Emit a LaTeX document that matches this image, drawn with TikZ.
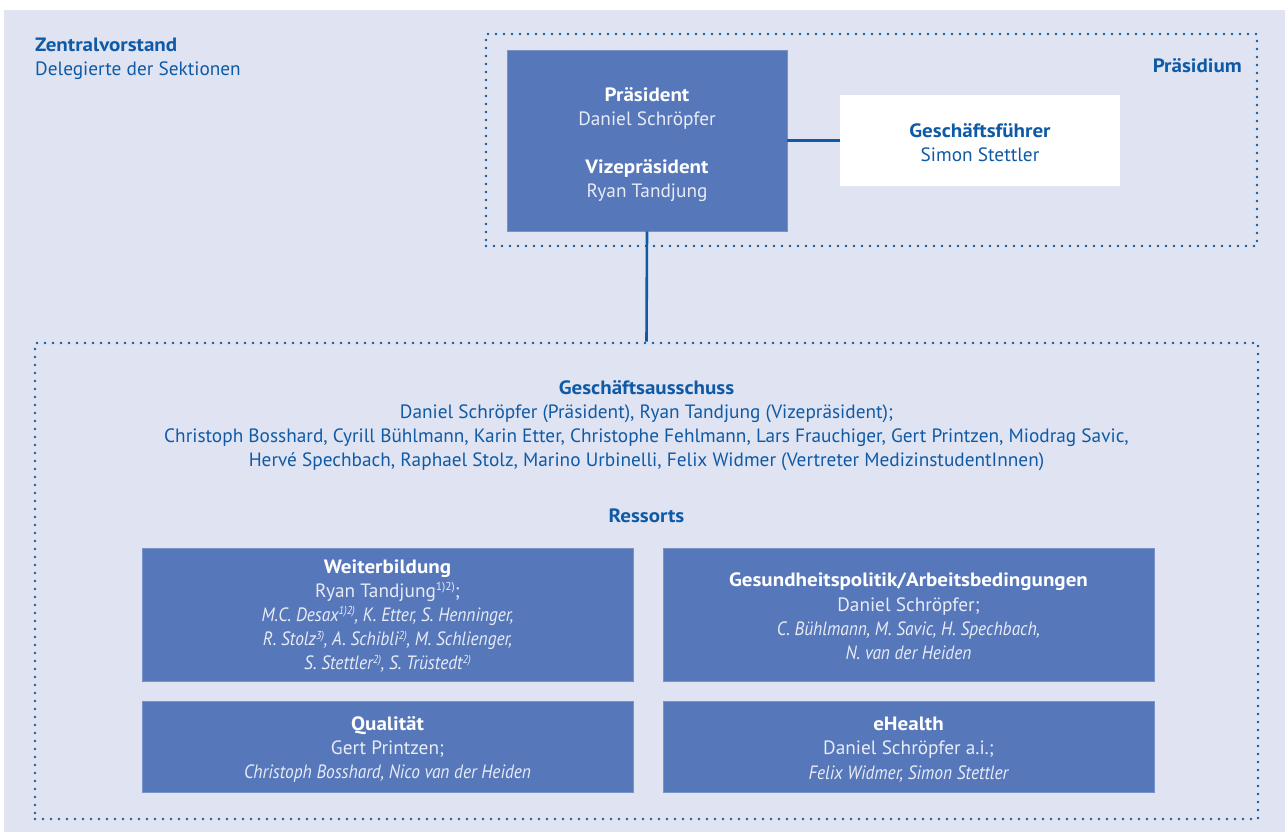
\documentclass[tikz,border=0pt]{standalone}
\usepackage{fontspec}
\setmainfont{PT Sans}[ItalicFeatures={FakeStretch=0.9},BoldFeatures={FakeStretch=1.09},BoldItalicFeatures={FakeStretch=1.0}]
\definecolor{bgc}{HTML}{E0E4F2}
\definecolor{boxc}{HTML}{5677BA}
\definecolor{dblue}{HTML}{0F5AA6}
\definecolor{ltext}{HTML}{E8ECF6}
\tikzset{
  dotbox/.style={draw=dblue, line width=2.6pt, dash pattern=on 0pt off 8pt, line cap=round, inner sep=0pt},
  bluebox/.style={fill=boxc, draw=boxc!80!white, line width=0.6pt, inner sep=0pt, align=center, text=ltext},
  whitebox/.style={fill=white, inner sep=0pt, align=center, text=dblue},
  conn/.style={draw=dblue, line width=2.6pt},
  lbl/.style={inner sep=0pt, text=dblue, align=center},
}
\newcommand{\hd}[1]{{\bfseries\color{white}#1}}
\newcommand{\hdb}[1]{{\bfseries #1}}
\newcommand{\sups}[1]{\raisebox{6.5pt}{\fontsize{11.5}{11.5}\selectfont #1}}
\begin{document}
\begin{tikzpicture}[x=1pt,y=-1pt, font=\fontsize{19.3}{24.2}\selectfont]
\useasboundingbox (0,0) rectangle (1285,832);
\fill[bgc] (4,10) rectangle (1285,832);

% dotted frames
\node[dotbox, minimum width=771pt, minimum height=212pt] (praes) at (871.5,140) {};
\node[dotbox, minimum width=1223pt, minimum height=476pt] (ga) at (646.5,581) {};

% top-left label
\node[lbl, anchor=west, align=left] (zv) at (35,59) {\hdb{Zentralvorstand}\\Delegierte der Sektionen};
\node[lbl, anchor=east] (prl) at (1242,66) {\hdb{Präsidium}};

% president box
\node[bluebox, minimum width=280pt, minimum height=181pt] (pres) at (647,140.5) {};
\node[lbl, text=ltext] (prest) at (647,144.5) {\hd{Präsident}\\Daniel Schröpfer\\[23.5pt]\hd{Vizepräsident}\\Ryan Tandjung};
\node[whitebox, minimum width=280pt, minimum height=91pt] (gf) at (980,140.5) {};
\node[lbl] (gft) at (980,142.5) {\hdb{Geschäftsführer}\\Simon Stettler};

\draw[conn] (pres.east) -- (gf.west);
\draw[conn] (pres.south) -- (ga.north);

% Geschaeftsausschuss
\node[lbl] (gat) at (646.5,425.5) {\hdb{Geschäftsausschuss}\\
Daniel Schröpfer (Präsident), Ryan Tandjung (Vizepräsident);\\
Christoph Bosshard, Cyrill Bühlmann, Karin Etter, Christophe Fehlmann, Lars Frauchiger, Gert Printzen, Miodrag Savic,\\
Hervé Spechbach, Raphael Stolz, Marino Urbinelli, Felix Widmer (Vertreter MedizinstudentInnen)};
\node[lbl] (res) at (646.5,516) {\hdb{Ressorts}};

% Ressort boxes
\node[bluebox, minimum width=491pt, minimum height=133pt] (wb) at (387.5,614.5) {};
\node[lbl, text=ltext] (wbt) at (387.5,616)
  {\hd{Weiterbildung}\\Ryan Tandjung\sups{1)2)};\\
  \itshape M.C. Desax\sups{1)2)}, K. Etter, S. Henninger,\\
  \itshape R. Stolz\sups{3)}, A. Schibli\sups{2)}, M. Schlienger,\\
  \itshape S. Stettler\sups{2)}, S. Trüstedt\sups{2)}};
\node[bluebox, minimum width=491pt, minimum height=133pt] (gp) at (908.5,614.5) {};
\node[lbl, text=ltext] (gpt) at (908.5,616.5)
  {\hd{Gesundheitspolitik/Arbeitsbedingungen}\\Daniel Schröpfer;\\
  \itshape C. Bühlmann, M. Savic, H. Spechbach,\\
  \itshape N. van der Heiden};
\node[bluebox, minimum width=491pt, minimum height=91pt] (q) at (387.5,746.5) {};
\node[lbl, text=ltext] (qt) at (387.5,749.5)
  {\hd{Qualität}\\Gert Printzen;\\
  \itshape Christoph Bosshard, Nico van der Heiden};
\node[bluebox, minimum width=491pt, minimum height=91pt] (eh) at (908.5,746.5) {};
\node[lbl, text=ltext] (eht) at (908.5,749.5)
  {\hd{eHealth}\\Daniel Schröpfer a.i.;\\
  \itshape Felix Widmer, Simon Stettler};
\end{tikzpicture}
\end{document}
